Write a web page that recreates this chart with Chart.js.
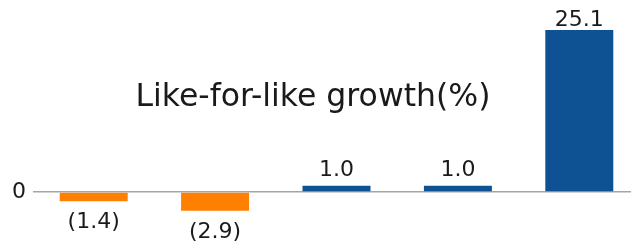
<!DOCTYPE html>
<html lang="en">
<head>
    <meta charset="UTF-8">
    <title>Like-for-like growth</title>
    <style>
        html, body { margin: 0; padding: 0; background: #fff; overflow: hidden; }
        #chart-container { position: relative; width: 640px; height: 247px; }
    </style>
</head>
<script src="https://cdn.jsdelivr.net/npm/chart.js@4/dist/chart.umd.min.js"></script>
<body>
<div class="chart-container" id="chart-container">
    <canvas id="myChart"></canvas>
</div>

<script>
    // data
    let categories = ['P1', 'P2', 'P3', 'P4', 'P5'];
    let growth = [-1.4, -2.9, 1.0, 1.0, 25.1];
    let yTicks = [0];
    let titleText = 'Like-for-like growth(%)';

    let colorPos = '#0E5294';
    let colorNeg = '#FF8000';
    let fontFamily = '"DejaVu Sans", Verdana, sans-serif';

    function fmt(v) {
        if (v < 0) return '(' + Math.abs(v).toFixed(1) + ')';
        return v.toFixed(1);
    }

    // value labels + title drawn on top of the bars
    let labelPlugin = {
        id: 'valueLabels',
        afterDatasetsDraw: function(chart) {
            let ctx = chart.ctx;
            let meta = chart.getDatasetMeta(0);
            ctx.save();
            ctx.fillStyle = '#1a1a1a';
            ctx.font = '22px ' + fontFamily;
            ctx.textAlign = 'center';
            ctx.textBaseline = 'alphabetic';
            meta.data.forEach(function(bar, i) {
                let v = growth[i];
                let y;
                if (v >= 0) {
                    y = bar.y - 10;
                    if (y < 26) y = 26; // clamp at top
                } else {
                    y = bar.y + 27;
                }
                ctx.fillText(fmt(v), bar.x, y);
            });

            // title sits in the middle of the plot
            ctx.font = '31.5px ' + fontFamily;
            ctx.fillText(titleText, 313, 106);
            ctx.restore();
        }
    };

    let ctx = document.getElementById('myChart');
    let myChart = new Chart(ctx, {
        type: 'bar',
        data: {
            labels: categories,
            datasets: [{
                data: growth,
                backgroundColor: growth.map(function(v) { return v < 0 ? colorNeg : colorPos; }),
                borderWidth: 0,
                categoryPercentage: 1.0,
                barPercentage: 0.56
            }]
        },
        options: {
            responsive: true,
            maintainAspectRatio: false,
            animation: false,
            layout: { padding: 0 },
            plugins: {
                legend: { display: false },
                tooltip: { enabled: false },
                title: { display: false }
            },
            scales: {
                x: {
                    display: false
                },
                y: {
                    min: -8.5,
                    max: 29.75,
                    afterBuildTicks: function(scale) {
                        scale.ticks = yTicks.map(function(v) { return { value: v }; });
                    },
                    afterFit: function(scale) {
                        scale.width = 33;
                        scale.paddingTop = 0;
                        scale.paddingBottom = 0;
                    },
                    border: { display: false },
                    grid: {
                        color: '#a6a6a6',
                        lineWidth: 1.5,
                        drawTicks: false
                    },
                    ticks: {
                        padding: 7,
                        color: '#1a1a1a',
                        font: { family: fontFamily, size: 22 },
                        callback: function(v) { return String(v); }
                    }
                }
            }
        },
        plugins: [labelPlugin]
    });
</script>
</body>
</html>
